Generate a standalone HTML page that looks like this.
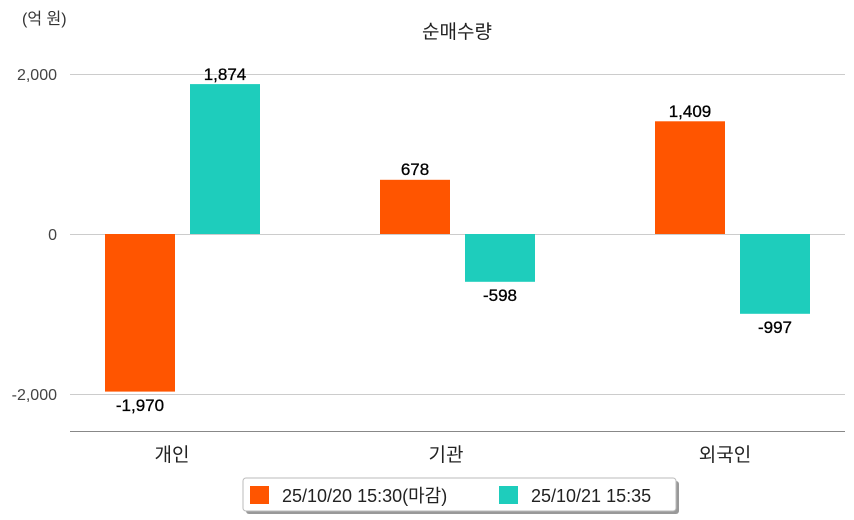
<!DOCTYPE html>
<html><head><meta charset="utf-8"><style>
html,body{margin:0;padding:0;background:#fff;}
svg{display:block;font-family:"Liberation Sans","Noto Sans CJK KR",sans-serif;}
</style></head><body>
<svg width="854" height="520" viewBox="0 0 854 520">
<text x="22" y="24" font-size="16" fill="#333">(억 원)</text>
<text x="457" y="38" font-size="19" fill="#222" text-anchor="middle">순매수량</text>
<g stroke="#ccc" stroke-width="1">
<line x1="70" y1="74.5" x2="845" y2="74.5"/>
<line x1="70" y1="234.5" x2="845" y2="234.5"/>
<line x1="70" y1="394.5" x2="845" y2="394.5"/>
</g>
<line x1="70" y1="431.5" x2="845" y2="431.5" stroke="#888" stroke-width="1"/>
<g font-size="16" fill="#444" text-anchor="end">
<text x="57" y="80">2,000</text>
<text x="57" y="240">0</text>
<text x="57" y="400">-2,000</text>
</g>
<g>
<rect x="105" y="234" width="70" height="157.6" fill="#ff5500"/>
<rect x="190" y="84.1" width="70" height="149.9" fill="#1ecdbc"/>
<rect x="380" y="179.8" width="70" height="54.2" fill="#ff5500"/>
<rect x="465" y="234" width="70" height="47.8" fill="#1ecdbc"/>
<rect x="655" y="121.3" width="70" height="112.7" fill="#ff5500"/>
<rect x="740" y="234" width="70" height="79.8" fill="#1ecdbc"/>
</g>
<g font-size="17" fill="#000" text-anchor="middle" stroke="#000" stroke-width="0.3">
<text x="140" y="411">-1,970</text>
<text x="225" y="80">1,874</text>
<text x="415" y="175">678</text>
<text x="500" y="301">-598</text>
<text x="690" y="117">1,409</text>
<text x="775" y="333">-997</text>
</g>
<g font-size="19" fill="#222" text-anchor="middle">
<text x="172" y="461">개인</text>
<text x="446" y="461">기관</text>
<text x="725" y="461">외국인</text>
</g>
<rect x="246" y="481" width="433" height="33" rx="3" fill="#999"/>
<rect x="243" y="478" width="433" height="33" rx="3" fill="#fff" stroke="#bbb" stroke-width="1"/>
<rect x="250" y="486" width="19" height="18" fill="#ff5500"/>
<text x="282" y="502" font-size="18" fill="#222">25/10/20 15:30(마감)</text>
<rect x="499" y="486" width="19" height="18" fill="#1ecdbc"/>
<text x="531" y="502" font-size="18" fill="#222">25/10/21 15:35</text>
</svg>
</body></html>
